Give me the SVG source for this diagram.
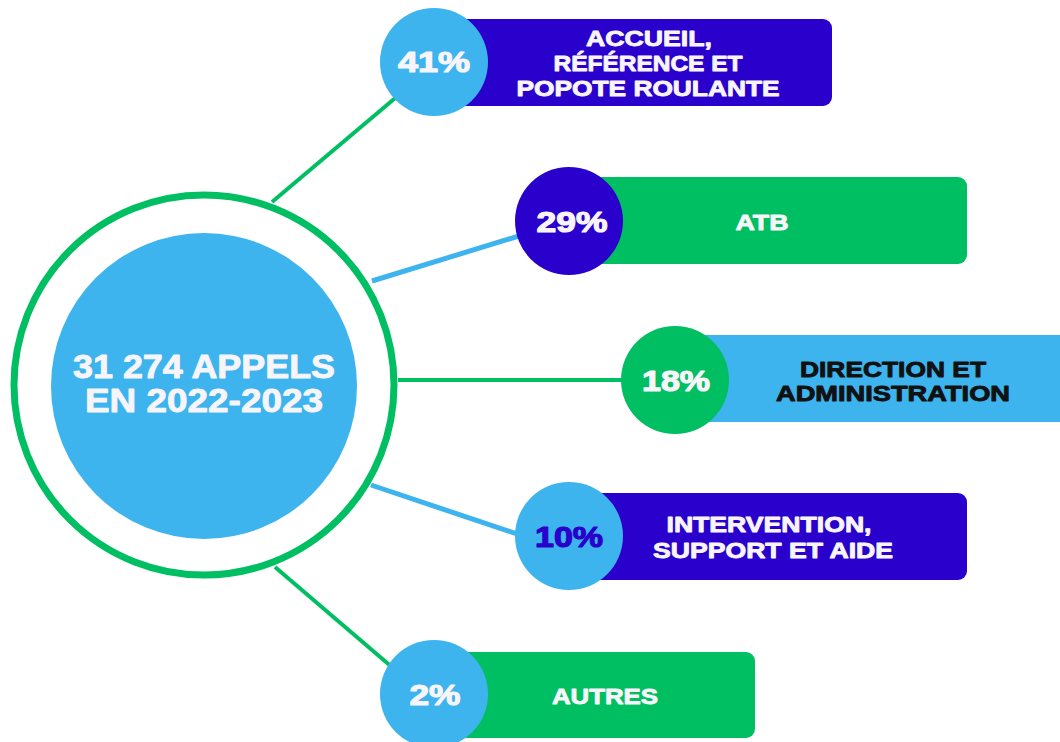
<svg xmlns="http://www.w3.org/2000/svg" width="1060" height="742" viewBox="0 0 1060 742">
<style>
.t{font-family:"Liberation Sans",Arial,sans-serif;font-weight:700;text-anchor:middle;fill:#F7F5FA;stroke:#F7F5FA;stroke-width:0.9;stroke-linejoin:round}
.pct{font-size:30px;stroke-width:1.2}
.lbl{font-size:22px}
.dark{fill:#111111;stroke:#111111}
.navy{fill:#2A00CC;stroke:#2A00CC}
.g{fill:#00BF63}
.b{fill:#3DB4EE}
.v{fill:#2A00CC}
.lg{stroke:#00BF63;stroke-width:4;fill:none}
.lb{stroke:#3DB4EE;stroke-width:5;fill:none}
</style>
<rect width="1060" height="742" fill="#FFFFFF"/>
<g id="connectors">
<line class="lg" x1="272" y1="202" x2="400" y2="94"/>
<line class="lb" x1="372" y1="281" x2="535" y2="231"/>
<line class="lg" x1="398" y1="380" x2="640" y2="380"/>
<line class="lb" x1="371" y1="485" x2="535" y2="540"/>
<line class="lg" x1="275" y1="567" x2="400" y2="674"/>
</g>
<g id="center">
<circle cx="204" cy="385" r="190" fill="#FFFFFF" stroke="#00BF63" stroke-width="7"/>
<circle cx="204" cy="386" r="153" class="b"/>
<text class="t" x="204" y="378" font-size="33" stroke-width="1.3" textLength="262" lengthAdjust="spacingAndGlyphs">31 274 APPELS</text>
<text class="t" x="204" y="412" font-size="33" stroke-width="1.3" textLength="238" lengthAdjust="spacingAndGlyphs">EN 2022-2023</text>
</g>
<g id="node-41">
<rect x="434" y="19" width="398" height="87" rx="9" class="v"/>
<circle cx="434" cy="62" r="54" class="b"/>
<text class="t pct" x="434" y="72" textLength="72" lengthAdjust="spacingAndGlyphs">41%</text>
<text class="t lbl" x="649" y="46" textLength="126" lengthAdjust="spacingAndGlyphs">ACCUEIL,</text>
<text class="t lbl" x="648" y="71" textLength="189" lengthAdjust="spacingAndGlyphs">RÉFÉRENCE ET</text>
<text class="t lbl" x="648" y="96" textLength="263" lengthAdjust="spacingAndGlyphs">POPOTE ROULANTE</text>
</g>
<g id="node-29">
<rect x="569" y="177" width="398" height="87" rx="9" class="g"/>
<circle cx="569" cy="221" r="54" class="v"/>
<text class="t pct" x="572" y="232" textLength="71" lengthAdjust="spacingAndGlyphs">29%</text>
<text class="t lbl" x="762" y="230" textLength="53" lengthAdjust="spacingAndGlyphs">ATB</text>
</g>
<g id="node-18">
<rect x="675" y="335" width="400" height="87" class="b"/>
<circle cx="675" cy="380" r="54" class="g"/>
<text class="t pct" x="676" y="391" textLength="68" lengthAdjust="spacingAndGlyphs">18%</text>
<text class="t lbl dark" x="893" y="377" textLength="186" lengthAdjust="spacingAndGlyphs">DIRECTION ET</text>
<text class="t lbl dark" x="893" y="401" textLength="234" lengthAdjust="spacingAndGlyphs">ADMINISTRATION</text>
</g>
<g id="node-10">
<rect x="569" y="493" width="398" height="87" rx="9" class="v"/>
<circle cx="569" cy="536" r="54" class="b"/>
<text class="t pct navy" x="569" y="547" textLength="68" lengthAdjust="spacingAndGlyphs">10%</text>
<text class="t lbl" x="769" y="532" textLength="205" lengthAdjust="spacingAndGlyphs">INTERVENTION,</text>
<text class="t lbl" x="773" y="558" textLength="240" lengthAdjust="spacingAndGlyphs">SUPPORT ET AIDE</text>
</g>
<g id="node-2">
<rect x="434" y="652" width="321" height="86" rx="9" class="g"/>
<circle cx="434" cy="694" r="54" class="b"/>
<text class="t pct" x="435" y="705" textLength="51" lengthAdjust="spacingAndGlyphs">2%</text>
<text class="t lbl" x="605" y="704" textLength="106" lengthAdjust="spacingAndGlyphs">AUTRES</text>
</g>
</svg>
